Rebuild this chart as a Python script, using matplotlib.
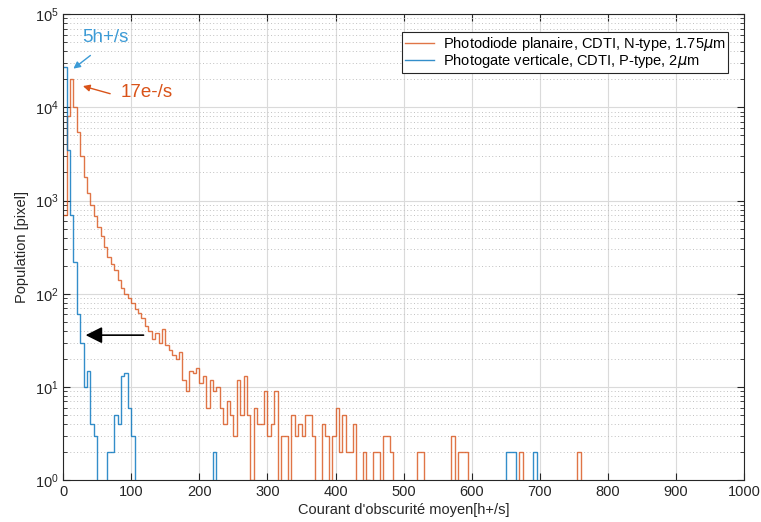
import numpy as np
import matplotlib
matplotlib.use("Agg")
from matplotlib import pyplot as plt

# Histogram bins (h+/s), 5 units wide
bin_edges = np.arange(0, 1005, 5)

# Photodiode planaire, CDTI, N-type, 1.75um (counts per bin)
orange_counts = [
    700, 8000, 20000, 10000, 5500, 3000, 1800, 1200, 900, 680,
    520, 420, 320, 250, 210, 180, 140, 115, 100, 90,
    80, 68, 62, 55, 45, 40, 33, 38, 30, 42,
    28, 25, 22, 20, 24, 12, 9, 15, 14, 16,
    11, 13, 6, 12, 9, 10, 6, 4, 7, 5,
    3, 12, 5, 13, 5, 1, 6, 4, 4, 9,
    3, 4, 9, 0, 3, 3, 0, 5, 3, 4,
    3, 5, 5, 3, 0, 0, 4, 3, 0, 3,
    6, 2, 5, 2, 2, 4, 0, 0, 2, 1,
    0, 2, 2, 0, 3, 3, 2, 0, 0, 0,
    0, 0, 0, 0, 2, 2, 0, 0, 0, 0,
    0, 0, 0, 0, 3, 0, 2, 2, 2, 0,
    0, 0, 0, 0, 0, 0, 0, 0, 0, 0,
    0, 0, 0, 0, 2, 0, 0, 0, 0, 0,
    0, 0, 0, 0, 0, 0, 0, 0, 0, 0,
    0, 2, 0, 0, 0, 0, 0, 0, 0, 0,
    0, 0, 0, 0, 0, 0, 0, 0, 0, 0,
    0, 0, 0, 0, 0, 0, 0, 0, 0, 0,
    0, 0, 0, 0, 0, 0, 0, 0, 0, 0,
    0, 0, 0, 0, 0, 0, 0, 0, 0, 0,
]

# Photogate verticale, CDTI, P-type, 2um (counts per bin)
blue_counts = [
    27000, 3500, 700, 220, 60, 30, 10, 15, 4, 3,
    0, 0, 0, 2, 2, 5, 4, 13, 14, 6,
    3, 0, 0, 0, 0, 0, 0, 0, 0, 0,
    0, 0, 0, 0, 0, 0, 0, 0, 0, 0,
    0, 0, 0, 0, 2, 0, 0, 0, 0, 0,
    0, 0, 0, 0, 0, 0, 0, 0, 0, 0,
    0, 0, 0, 0, 0, 0, 0, 0, 0, 0,
    0, 0, 0, 0, 0, 0, 0, 0, 0, 0,
    0, 0, 0, 0, 0, 0, 0, 0, 0, 0,
    0, 0, 0, 0, 0, 0, 0, 0, 0, 0,
    0, 0, 0, 0, 0, 0, 0, 0, 0, 0,
    0, 0, 0, 0, 0, 0, 0, 0, 0, 0,
    0, 0, 0, 0, 0, 0, 0, 0, 0, 0,
    2, 2, 2, 0, 0, 0, 0, 0, 2, 0,
    0, 0, 0, 0, 0, 0, 0, 0, 0, 0,
    0, 0, 0, 0, 0, 0, 0, 0, 0, 0,
    0, 0, 0, 0, 0, 0, 0, 0, 0, 0,
    0, 0, 0, 0, 0, 0, 0, 0, 0, 0,
    0, 0, 0, 0, 0, 0, 0, 0, 0, 0,
    0, 0, 0, 0, 0, 0, 0, 0, 0, 0,
]

orange_label = r"Photodiode planaire, CDTI, N-type, 1.75$\mu$m"
blue_label = r"Photogate verticale, CDTI, P-type, 2$\mu$m"

ORANGE = "#D95319"
BLUE = "#0072BD"
LIGHT_BLUE = "#3C9BD6"
TEXT = "#262626"

plt.rcParams["font.family"] = ["Liberation Sans", "DejaVu Sans"]
plt.rcParams["mathtext.fontset"] = "dejavusans"

fig = plt.figure(figsize=(7.61, 5.22), dpi=100)
ax = fig.add_axes([0.083, 0.080, 0.895, 0.893])

ax.set_yscale("log", nonpositive="clip")
ax.stairs(orange_counts, bin_edges, baseline=None, color=ORANGE,
          linewidth=1.0, alpha=0.8, label=orange_label)
ax.stairs(blue_counts, bin_edges, baseline=None, color=BLUE,
          linewidth=1.0, alpha=0.8, label=blue_label)

ax.set_xlim(0, 1000)
ax.set_ylim(1, 1e5)
ax.set_xticks(np.arange(0, 1001, 100))
ax.set_yticks([1, 10, 100, 1e3, 1e4, 1e5])

# MATLAB-like grid and box
ax.grid(True, which="major", color="#DADADA", linewidth=0.8)
ax.grid(True, which="minor", axis="y", color="#C0C0C0", linestyle=(0, (1, 2.5)),
        linewidth=0.7)
ax.set_axisbelow(True)
ax.tick_params(which="both", direction="in", top=True, right=True,
               colors=TEXT, labelsize=10.5)
ax.tick_params(which="major", length=5)
ax.tick_params(which="minor", length=3)
for spine in ax.spines.values():
    spine.set_color(TEXT)
    spine.set_linewidth(0.8)

ax.set_xlabel("Courant d'obscurité moyen[h+/s]", color=TEXT, fontsize=10.5,
              labelpad=3)
ax.set_ylabel("Population [pixel]", color=TEXT, fontsize=10.5, labelpad=4)

leg = ax.legend(loc="upper right", bbox_to_anchor=(0.9765, 0.961),
                borderaxespad=0, fontsize=10.5, handlelength=2.0,
                fancybox=False, framealpha=1, edgecolor=TEXT,
                borderpad=0.2, labelspacing=-0.1, handletextpad=0.6)
leg.get_frame().set_linewidth(0.8)

# Annotations
ax.text(28, 45000, "5h+/s", color=LIGHT_BLUE, fontsize=13.5,
        ha="left", va="bottom")
ax.annotate("", xy=(15, 26000), xytext=(40, 36000),
            arrowprops=dict(arrowstyle="-|>", color=LIGHT_BLUE, lw=1.0,
                            mutation_scale=10, shrinkA=0, shrinkB=0))
ax.text(84, 14500, "17e-/s", color=ORANGE, fontsize=13.5,
        ha="left", va="center")
ax.annotate("", xy=(29, 16900), xytext=(69, 14000),
            arrowprops=dict(arrowstyle="-|>", color=ORANGE, lw=1.0,
                            mutation_scale=10, shrinkA=0, shrinkB=0))
ax.annotate("", xy=(33, 36), xytext=(118, 36),
            arrowprops=dict(arrowstyle="-|>", color="black", lw=1.2,
                            mutation_scale=25, shrinkA=0, shrinkB=0))

fig.savefig("out.png", dpi=100)
